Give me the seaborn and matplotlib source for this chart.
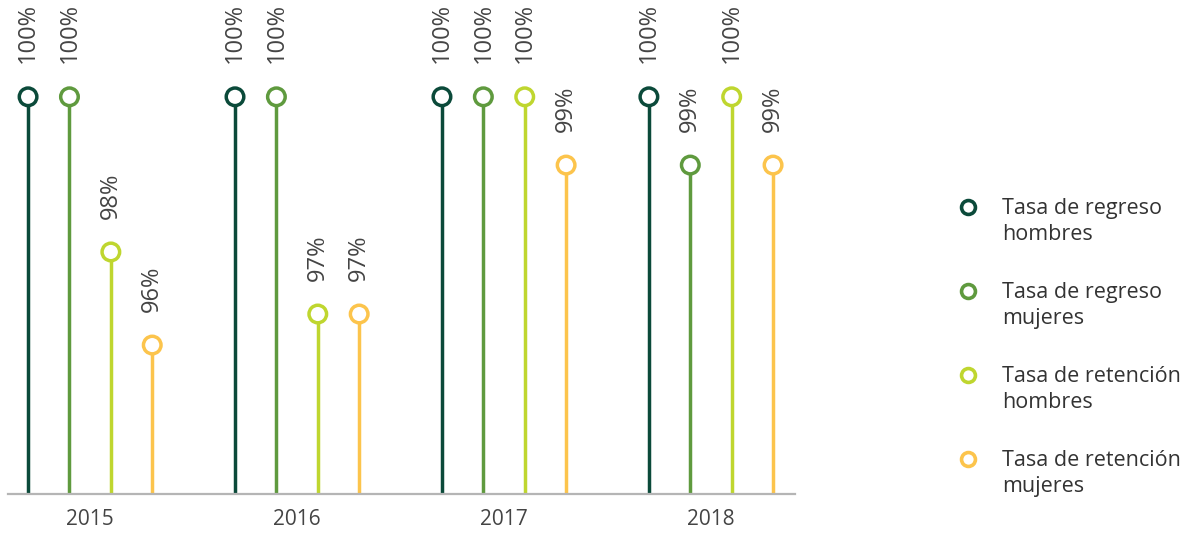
import numpy as np
import pandas as pd
import matplotlib
matplotlib.use("Agg")
import matplotlib.pyplot as plt
from matplotlib.lines import Line2D
import seaborn as sns

years = ["2015", "2016", "2017", "2018"]
series = ["Tasa de regreso\nhombres", "Tasa de regreso\nmujeres",
          "Tasa de retención\nhombres", "Tasa de retención\nmujeres"]
regreso_hombres = [100.0, 100.0, 100.0, 100.0]
regreso_mujeres = [100.0, 100.0, 100.0, 98.9]
retencion_hombres = [97.5, 96.5, 100.0, 100.0]
retencion_mujeres = [96.0, 96.5, 98.9, 98.9]
value_labels = [
    ["100%", "100%", "98%", "96%"],
    ["100%", "100%", "97%", "97%"],
    ["100%", "100%", "100%", "99%"],
    ["100%", "99%", "100%", "99%"],
]
colors = ["#0b4a3a", "#5f9a3e", "#bfd62f", "#fcc44c"]

sns.set_theme(style="white")
plt.rcParams["font.family"] = ["Open Sans", "DejaVu Sans"]

vals = [regreso_hombres, regreso_mujeres, retencion_hombres, retencion_mujeres]
rows = []
for gi, y in enumerate(years):
    for si, s in enumerate(series):
        rows.append({"year": y, "series": s, "value": vals[si][gi],
                     "x": gi + (si - 1.5) * 0.2, "label": value_labels[gi][si]})
df = pd.DataFrame(rows)

W, H = 1187, 533
fig = plt.figure(figsize=(W / 100, H / 100), dpi=100)
ax = fig.add_axes([8 / W, 1 - 494 / H, (795 - 8) / W, 494 / H])

ymin, ymax = 93.6, 101.56
ax.set_ylim(ymin, ymax)
ax.set_xlim(-0.397, 3.406)

for si, s in enumerate(series):
    d = df[df.series == s]
    ax.vlines(d["x"], ymin, d["value"], color=colors[si], lw=2.5, zorder=2)

sns.scatterplot(data=df, x="x", y="value", hue="series", palette=colors,
                s=160, facecolor="white", linewidth=2.5, ax=ax, legend=False,
                zorder=3)
coll = ax.collections[-1]
ec = [colors[series.index(s)] for s in df["series"]]
coll.set_edgecolor(ec)
coll.set_facecolor("white")

for _, r in df.iterrows():
    ax.annotate(r["label"], (r["x"], r["value"]), xytext=(0, 24),
                textcoords="offset points", rotation=90, ha="center",
                va="bottom", fontsize=17, color="#444444")

for sp in ["top", "right", "left"]:
    ax.spines[sp].set_visible(False)
ax.spines["bottom"].set_color("#b5b5b5")
ax.spines["bottom"].set_linewidth(1.6)
ax.set_yticks([])
ax.set_xticks(range(len(years)))
ax.set_xticklabels(years, fontsize=15, color="#444444")
ax.tick_params(axis="x", length=0, pad=11)
ax.set_xlabel("")
ax.set_ylabel("")

# legend
leg_y = [207, 291, 375, 459]
for si, s in enumerate(series):
    fig.add_artist(Line2D([968 / W], [1 - leg_y[si] / H], marker="o",
                          markersize=10, markerfacecolor="white",
                          markeredgecolor=colors[si], markeredgewidth=2.6,
                          linestyle="none", transform=fig.transFigure))
    fig.text(1002 / W, 1 - (leg_y[si] - 9) / H, s, fontsize=15.5,
             color="#333333", va="top", ha="left", linespacing=1.3)

fig.savefig("out.png", dpi=100, facecolor="white")
